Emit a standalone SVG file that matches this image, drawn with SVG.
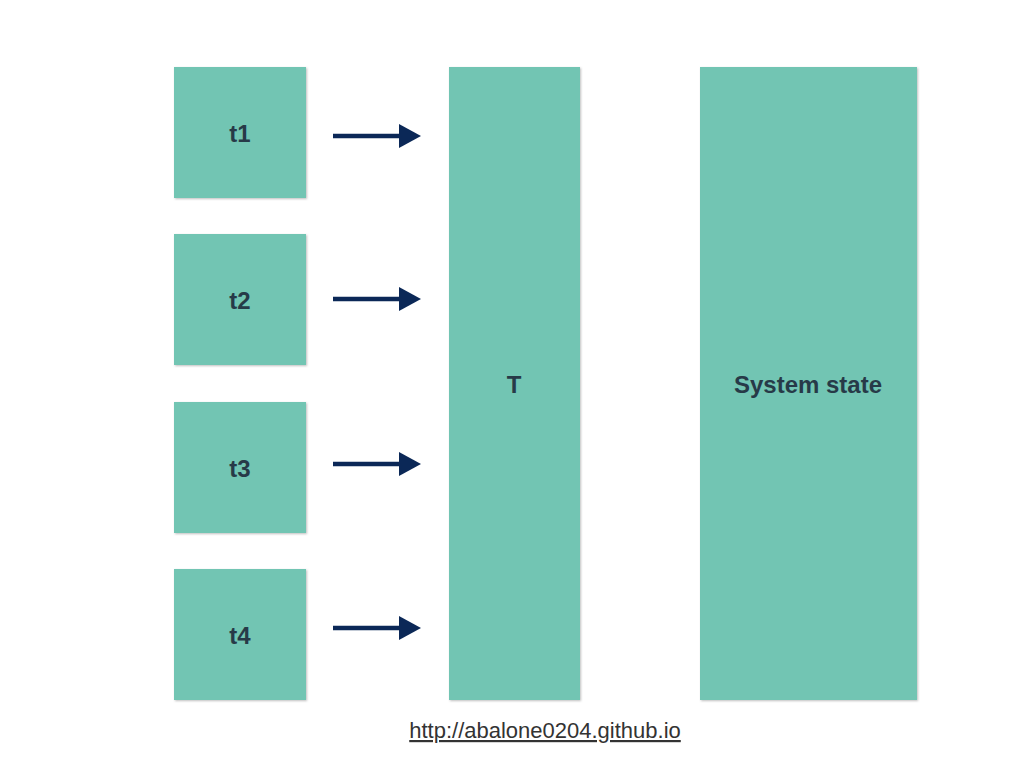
<svg xmlns="http://www.w3.org/2000/svg" width="1024" height="768" viewBox="0 0 1024 768">
<style>
.box{fill:#72c5b3;filter:url(#sh)}
.lbl{font-family:"Liberation Sans",Arial,sans-serif;font-weight:bold;font-size:24px;fill:#273a48;text-anchor:middle}
.arr{stroke:#0b2857;stroke-width:4.5;fill:none;marker-end:url(#ah)}
.url{font-family:"Liberation Sans",Arial,sans-serif;font-size:22px;fill:#333;text-anchor:middle;text-decoration:underline}
</style>
<defs>
<filter id="sh" x="-5%" y="-5%" width="110%" height="110%">
<feDropShadow dx="1" dy="1" stdDeviation="1" flood-color="#000" flood-opacity="0.25"/>
</filter>
<marker id="ah" markerUnits="userSpaceOnUse" markerWidth="24" markerHeight="24" refX="4" refY="12" orient="auto">
<path d="M0,0 L22,12 L0,24 Z" fill="#0b2857"/>
</marker>
</defs>
<rect width="1024" height="768" fill="#fff"/>
<g id="t1"><rect class="box" x="174" y="67" width="132" height="131"/><text class="lbl" x="240" y="142">t1</text></g>
<g id="t2"><rect class="box" x="174" y="234" width="132" height="131"/><text class="lbl" x="240" y="309">t2</text></g>
<g id="t3"><rect class="box" x="174" y="402" width="132" height="131"/><text class="lbl" x="240" y="477">t3</text></g>
<g id="t4"><rect class="box" x="174" y="569" width="132" height="131"/><text class="lbl" x="240" y="644">t4</text></g>
<g id="T"><rect class="box" x="449" y="67" width="131" height="633"/><text class="lbl" x="514" y="393">T</text></g>
<g id="system-state"><rect class="box" x="700" y="67" width="217" height="633"/><text class="lbl" x="808" y="393">System state</text></g>
<g id="connectors">
<line class="arr" x1="333" y1="136" x2="403" y2="136"/>
<line class="arr" x1="333" y1="299" x2="403" y2="299"/>
<line class="arr" x1="333" y1="464" x2="403" y2="464"/>
<line class="arr" x1="333" y1="628" x2="403" y2="628"/>
</g>
<text class="url" x="545" y="738">http://abalone0204.github.io</text>
</svg>
